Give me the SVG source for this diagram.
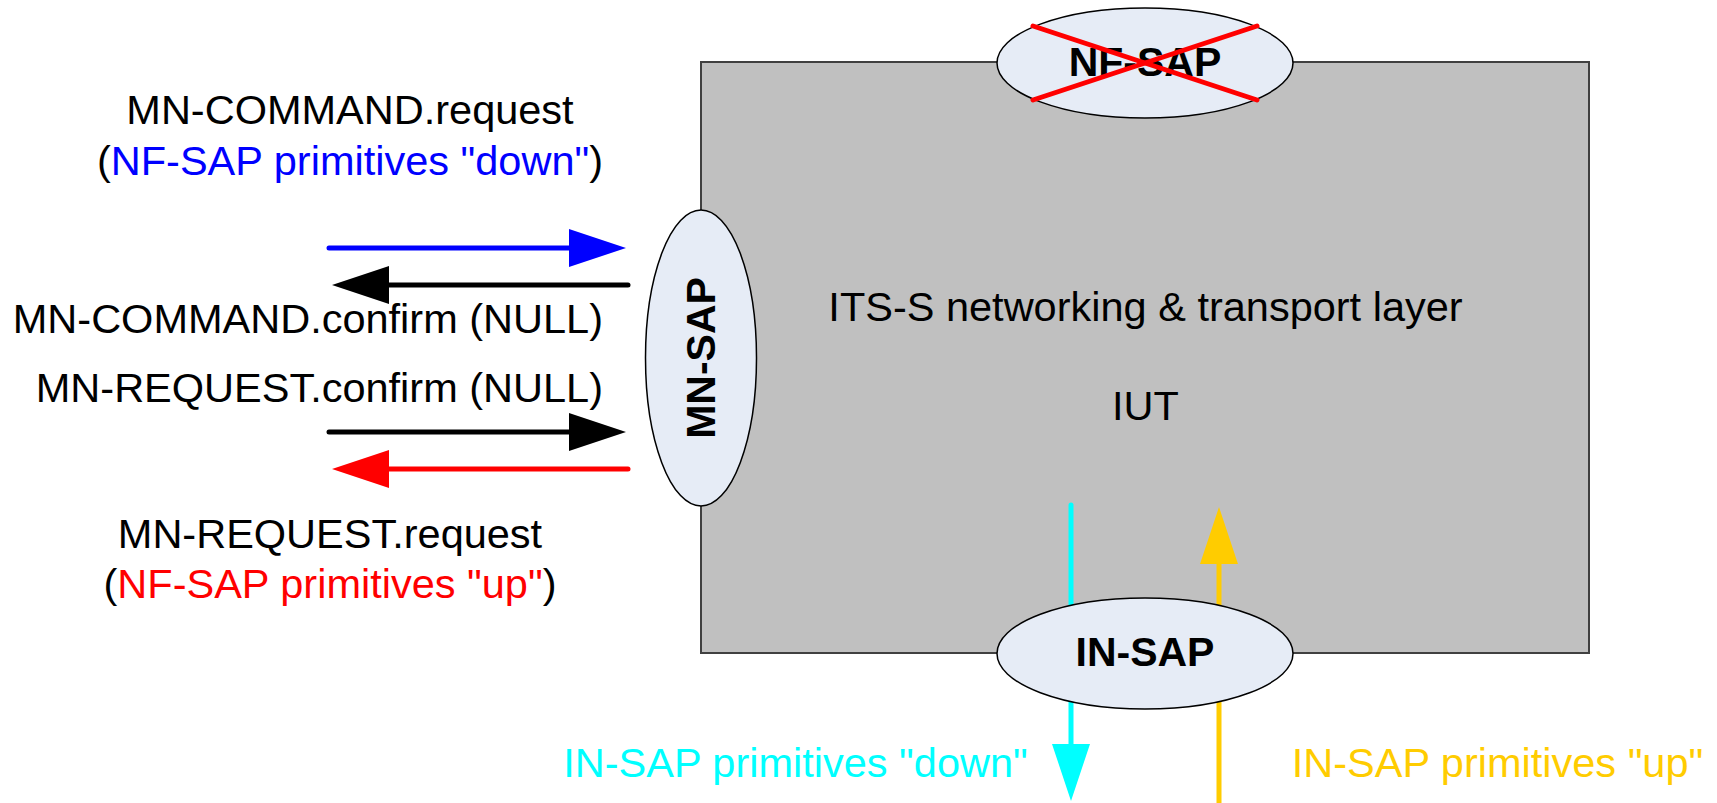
<svg xmlns="http://www.w3.org/2000/svg" width="1717" height="803" viewBox="0 0 1717 803">
<style>
text{font-family:"Liberation Sans",Arial,sans-serif;font-size:41.5px;fill:#000}
.b{font-weight:bold;font-size:41px}
.sap{fill:#E6ECF6;stroke:#000;stroke-width:1.5}
.ln{stroke-width:5;stroke-linecap:round;fill:none}
</style>
<defs>
<marker id="hBlue" viewBox="0 0 57 38" refX="0" refY="19" markerWidth="57" markerHeight="38" markerUnits="userSpaceOnUse" orient="auto"><path d="M0,0L57,19L0,38z" fill="#0000FF"/></marker>
<marker id="hBlack" viewBox="0 0 57 38" refX="0" refY="19" markerWidth="57" markerHeight="38" markerUnits="userSpaceOnUse" orient="auto"><path d="M0,0L57,19L0,38z" fill="#000"/></marker>
<marker id="hRed" viewBox="0 0 57 38" refX="0" refY="19" markerWidth="57" markerHeight="38" markerUnits="userSpaceOnUse" orient="auto"><path d="M0,0L57,19L0,38z" fill="#FF0000"/></marker>
<marker id="hCyan" viewBox="0 0 57 38" refX="0" refY="19" markerWidth="57" markerHeight="38" markerUnits="userSpaceOnUse" orient="auto"><path d="M0,0L57,19L0,38z" fill="#00FFFF"/></marker>
<marker id="hGold" viewBox="0 0 57 38" refX="0" refY="19" markerWidth="57" markerHeight="38" markerUnits="userSpaceOnUse" orient="auto"><path d="M0,0L57,19L0,38z" fill="#FFCC00"/></marker>
</defs>
<rect width="1717" height="803" fill="#fff"/>
<g id="iut">
<rect x="701" y="62" width="888" height="591" fill="#C0C0C0" stroke="#404040" stroke-width="2"/>
<text x="1145.5" y="321" text-anchor="middle">ITS-S networking &amp; transport layer</text>
<text x="1145.5" y="420" text-anchor="middle">IUT</text>
</g>
<g id="connectors">
<line class="ln" x1="329" y1="248" x2="569" y2="248" stroke="#0000FF" marker-end="url(#hBlue)"/>
<line class="ln" x1="628" y1="285" x2="389" y2="285" stroke="#000" marker-end="url(#hBlack)"/>
<line class="ln" x1="329" y1="432" x2="569" y2="432" stroke="#000" marker-end="url(#hBlack)"/>
<line class="ln" x1="628" y1="469" x2="389" y2="469" stroke="#FF0000" marker-end="url(#hRed)"/>
<line class="ln" x1="1071" y1="505" x2="1071" y2="744" stroke="#00FFFF" marker-end="url(#hCyan)"/>
<line class="ln" x1="1219" y1="812" x2="1219" y2="564" stroke="#FFCC00" marker-end="url(#hGold)"/>
</g>
<g id="nf-sap">
<ellipse class="sap" cx="1145" cy="63" rx="148" ry="55"/>
<text class="b" x="1145" y="76" text-anchor="middle">NF-SAP</text>
<line x1="1033" y1="26" x2="1257" y2="100" stroke="#FF0000" stroke-width="5" stroke-linecap="round"/>
<line x1="1033" y1="100" x2="1257" y2="26" stroke="#FF0000" stroke-width="5" stroke-linecap="round"/>
</g>
<g id="mn-sap">
<ellipse class="sap" cx="701" cy="358" rx="55.5" ry="148"/>
<text class="b" transform="translate(715,358) rotate(-90)" x="0" y="0" text-anchor="middle">MN-SAP</text>
</g>
<g id="in-sap">
<ellipse class="sap" cx="1145" cy="653.5" rx="148" ry="55.5"/>
<text class="b" x="1145" y="666" text-anchor="middle">IN-SAP</text>
</g>
<g id="labels">
<text x="350" y="124" text-anchor="middle">MN-COMMAND.request</text>
<text x="350" y="175" text-anchor="middle">(<tspan fill="#0000FF">NF-SAP primitives "down"</tspan>)</text>
<text x="603" y="333" text-anchor="end">MN-COMMAND.confirm (NULL)</text>
<text x="603" y="402" text-anchor="end">MN-REQUEST.confirm (NULL)</text>
<text x="330" y="548" text-anchor="middle">MN-REQUEST.request</text>
<text x="330" y="598" text-anchor="middle">(<tspan fill="#FF0000">NF-SAP primitives "up"</tspan>)</text>
<text x="795.5" y="777" text-anchor="middle" fill="#00FFFF" style="fill:#00FFFF">IN-SAP primitives "down"</text>
<text x="1497.5" y="777" text-anchor="middle" style="fill:#FFCC00">IN-SAP primitives "up"</text>
</g>
</svg>
